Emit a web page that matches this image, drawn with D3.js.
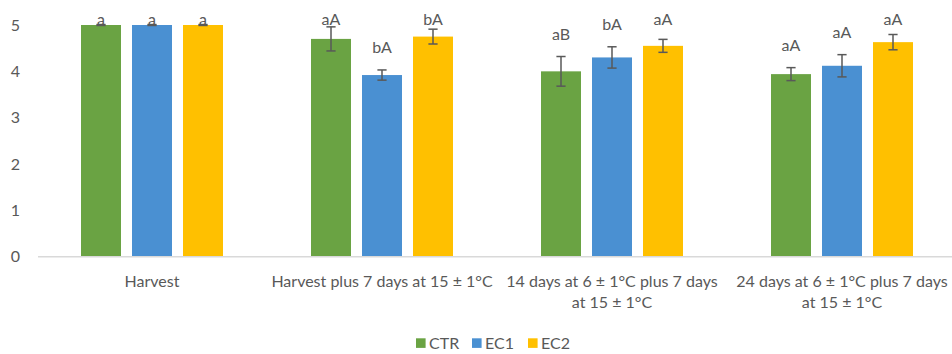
<!DOCTYPE html>
<html>
<head>
<meta charset="utf-8">
<script src="https://cdn.jsdelivr.net/npm/d3@7"></script>
<style>
  html, body { margin: 0; padding: 0; background: #fff; }
  svg { display: block; }
  text { font-family: Lato, "Open Sans", sans-serif; fill: #595959; }
</style>
</head>
<body>
<svg id="chart" width="952" height="354"></svg>
<script>
const categories = [
  "Harvest",
  "Harvest plus 7 days at 15 ± 1°C",
  "14 days at 6 ± 1°C plus 7 days at 15 ± 1°C",
  "24 days at 6 ± 1°C plus 7 days at 15 ± 1°C"
];
const series = ["CTR", "EC1", "EC2"];
const ctrValues = [5.00, 4.70, 4.00, 3.94];
const ec1Values = [5.00, 3.92, 4.30, 4.12];
const ec2Values = [5.00, 4.75, 4.55, 4.63];
const ctrErrors = [0.01, 0.26, 0.32, 0.14];
const ec1Errors = [0.01, 0.11, 0.23, 0.24];
const ec2Errors = [0.01, 0.16, 0.14, 0.165];
const ctrLetters = ["a", "aA", "aB", "aA"];
const ec1Letters = ["a", "bA", "bA", "aA"];
const ec2Letters = ["a", "bA", "aA", "aA"];
const yTicks = [0, 1, 2, 3, 4, 5];
const colors = ["#6aa343", "#4a90d2", "#ffc000"];

const valuesBySeries = [ctrValues, ec1Values, ec2Values];
const errorsBySeries = [ctrErrors, ec1Errors, ec2Errors];
const lettersBySeries = [ctrLetters, ec1Letters, ec2Letters];

const rows = [];
categories.forEach((c, i) => {
  series.forEach((s, j) => {
    rows.push({cat: c, ser: s, value: valuesBySeries[j][i], err: errorsBySeries[j][i], letter: lettersBySeries[j][i], color: colors[j]});
  });
});

const svg = d3.select("#chart");
const fontSize = 16;

const x0 = d3.scaleBand().domain(categories).range([37, 957]).paddingInner(0).paddingOuter(0);
const x1 = d3.scaleBand().domain(series).range([44, 186]).paddingInner(11 / 51).paddingOuter(0);
const y = d3.scaleLinear().domain([0, 5]).range([256.7, 25]);

// y axis labels
const yAxis = d3.axisLeft(y).tickValues(yTicks).tickSize(0).tickPadding(0).tickFormat(d3.format("d"));
const gy = svg.append("g").attr("transform", "translate(20,0)").call(yAxis);
gy.select(".domain").remove();
gy.selectAll("text").attr("font-size", fontSize).style("font-family", "Lato, 'Open Sans', sans-serif").attr("fill", "#595959");

// bars
svg.append("g").selectAll("rect").data(rows).join("rect")
  .attr("x", d => x0(d.cat) + x1(d.ser))
  .attr("width", x1.bandwidth())
  .attr("y", d => y(d.value))
  .attr("height", d => y(0) - y(d.value))
  .attr("fill", d => d.color);

// x axis line
const xAxis = d3.axisBottom(x0).tickSize(0).tickFormat("");
const gx = svg.append("g").attr("transform", `translate(0,${y(0)})`).call(xAxis);
gx.select(".domain").attr("stroke", "#d9d9d9").attr("stroke-width", 1.5).attr("d", "M38,0H952");

// error bars
const eb = svg.append("g").attr("stroke", "#595959").attr("stroke-width", 1.5).attr("fill", "none");
rows.forEach(d => {
  const cx = x0(d.cat) + x1(d.ser) + x1.bandwidth() / 2;
  const y1 = y(d.value + d.err), y2 = y(d.value - d.err);
  eb.append("line").attr("x1", cx).attr("x2", cx).attr("y1", y1).attr("y2", y2);
  eb.append("line").attr("x1", cx - 4.6).attr("x2", cx + 4.6).attr("y1", y1).attr("y2", y1);
  eb.append("line").attr("x1", cx - 4.6).attr("x2", cx + 4.6).attr("y1", y2).attr("y2", y2);
});

// letters
svg.append("g").selectAll("text").data(rows).join("text")
  .attr("x", d => x0(d.cat) + x1(d.ser) + x1.bandwidth() / 2)
  .attr("y", d => Math.max(y(5) - 0.5, y(d.value + d.err) - 17))
  .attr("text-anchor", "middle")
  .attr("font-size", fontSize)
  .text(d => d.letter);

// category labels with wrapping
const catG = svg.append("g");
categories.forEach(c => {
  const t = catG.append("text").attr("text-anchor", "middle").attr("font-size", fontSize)
    .attr("x", x0(c) + x0.bandwidth() / 2).attr("y", 287);
  const words = c.split(" ");
  let lines = [], line = [];
  const probe = svg.append("text").attr("font-size", fontSize);
  words.forEach(w => {
    const test = line.concat([w]).join(" ");
    probe.text(test);
    if (probe.node().getComputedTextLength() > 226 && line.length) {
      lines.push(line.join(" "));
      line = [w];
    } else line.push(w);
  });
  lines.push(line.join(" "));
  probe.remove();
  lines.forEach((l, i) => {
    t.append("tspan").attr("x", x0(c) + x0.bandwidth() / 2).attr("dy", i === 0 ? 0 : 21).text(l);
  });
});

// legend
const legendX = [416, 472, 528];
const lg = svg.append("g");
series.forEach((s, j) => {
  lg.append("rect").attr("x", legendX[j]).attr("y", 338.3).attr("width", 9.6).attr("height", 9.6).attr("fill", colors[j]);
  lg.append("text").attr("x", legendX[j] + 13).attr("y", 348.5).attr("font-size", fontSize).text(s);
});
</script>
</body>
</html>
